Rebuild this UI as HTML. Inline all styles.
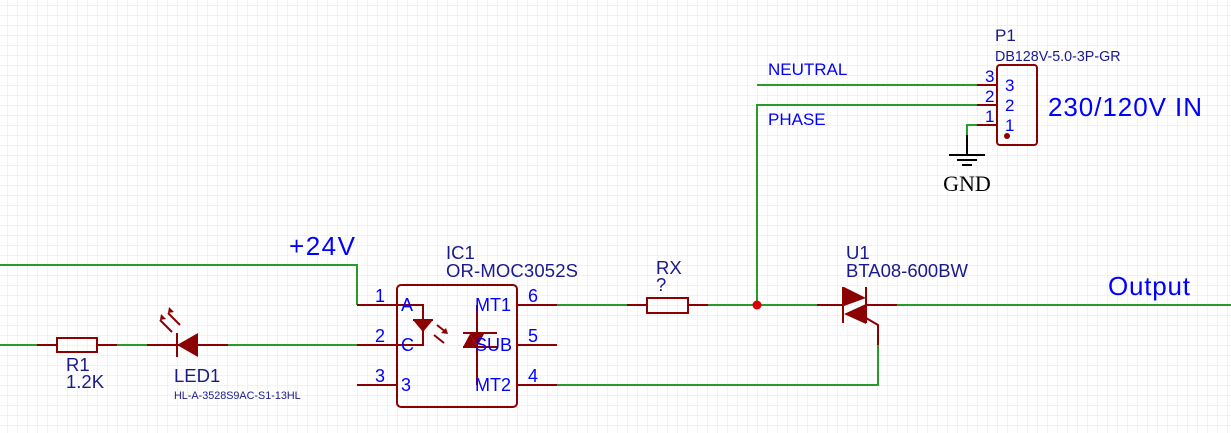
<!DOCTYPE html>
<html><head><meta charset="utf-8"><style>
html,body{margin:0;padding:0;background:#fff;}
svg{display:block;font-family:"Liberation Sans",sans-serif;}
</style></head><body>
<svg width="1231" height="433" viewBox="0 0 1231 433" xmlns="http://www.w3.org/2000/svg">
<defs>
<pattern id="g" width="10" height="10" patternUnits="userSpaceOnUse" x="7" y="5">
<path d="M0 0H10M0 0V10" stroke="#e4e4e4" stroke-width="1" fill="none"/>
</pattern>
</defs>
<rect width="1231" height="433" fill="url(#g)"/>
<g fill="none" stroke="#2a9a2a" stroke-width="2">
<polyline points="0,265 357,265 357,305"/>
<line x1="0" y1="345" x2="37" y2="345"/>
<line x1="117" y1="345" x2="147" y2="345"/>
<line x1="228" y1="345" x2="357" y2="345"/>
<line x1="557" y1="305" x2="627" y2="305"/>
<line x1="708" y1="305" x2="817" y2="305"/>
<line x1="897" y1="305" x2="1231" y2="305"/>
<polyline points="757,305 757,105 977,105"/>
<line x1="757" y1="85" x2="977" y2="85"/>
<polyline points="557,385 878,385 878,345"/>
<polyline points="977,125 967,125 967,135"/>
</g>
<g fill="none" stroke="#8b0000" stroke-width="2">
<line x1="357" y1="305" x2="397" y2="305"/>
<line x1="357" y1="345" x2="397" y2="345"/>
<line x1="357" y1="385" x2="397" y2="385"/>
<line x1="517" y1="305" x2="557" y2="305"/>
<line x1="517" y1="345" x2="557" y2="345"/>
<line x1="517" y1="385" x2="557" y2="385"/>
<rect x="397" y="285" width="120" height="122" rx="4"/>
<polyline points="397,305 423,305 423,345 397,345"/>
<line x1="413" y1="320" x2="433" y2="320"/>
<polyline points="477,305 477,385"/>
<line x1="463" y1="333" x2="497" y2="333"/>
<line x1="463" y1="347" x2="497" y2="347"/>
<line x1="437" y1="325" x2="447" y2="333"/><line x1="434" y1="335" x2="444" y2="343"/>
<line x1="37" y1="345" x2="57" y2="345"/>
<line x1="97" y1="345" x2="117" y2="345"/>
<rect x="57" y="338" width="40" height="14"/>
<line x1="147" y1="345" x2="228" y2="345"/>
<line x1="177" y1="333" x2="177" y2="357"/>
<line x1="172" y1="332" x2="160" y2="320"/><line x1="180" y1="325" x2="168" y2="313"/>
<line x1="627" y1="305" x2="647" y2="305"/>
<line x1="688" y1="305" x2="708" y2="305"/>
<rect x="647" y="298" width="41" height="15"/>
<line x1="817" y1="305" x2="843" y2="305"/>
<line x1="866" y1="305" x2="897" y2="305"/>
<line x1="843" y1="287" x2="843" y2="323"/>
<line x1="866" y1="287" x2="866" y2="323"/>
<polyline points="866,318 878,325 878,345"/>
<rect x="997" y="65" width="40" height="80" rx="3"/>
<line x1="977" y1="85" x2="997" y2="85"/>
<line x1="977" y1="105" x2="997" y2="105"/>
<line x1="977" y1="125" x2="997" y2="125"/>
</g>
<g fill="#8b0000">
<polygon points="413,320 433,320 423,332"/>
<polygon points="470,334 484,334 477,347"/>
<polygon points="477,334 470,347 484,347" transform="translate(-7,0)"/>
<polygon points="177,345 198,333 198,357"/>
<polygon points="448,334 441,333 446,328"/>
<polygon points="160,320 161,314 166,319"/><polygon points="168,313 169,307 174,312"/>
<polygon points="844,287 866,298 844,306"/>
<polygon points="866,304 844,314 866,324"/>
<circle cx="1007" cy="136" r="3"/>
</g>
<circle cx="757" cy="305" r="4.5" fill="#dd0000"/>
<g stroke="#000" stroke-width="2">
<line x1="967" y1="135" x2="967" y2="155"/>
<line x1="949" y1="155" x2="985" y2="155"/>
<line x1="957" y1="160" x2="977" y2="160"/>
<line x1="962" y1="165" x2="972" y2="165"/>
</g>
<text x="967" y="191" font-family="Liberation Serif,serif" font-size="22" text-anchor="middle" fill="#000">GND</text>
<g fill="#0000ff" font-size="18">
<text x="375" y="302">1</text><text x="375" y="342">2</text><text x="375" y="382">3</text>
<text x="401" y="311">A</text><text x="401" y="351">C</text><text x="401" y="391">3</text>
<text x="475" y="311">MT1</text><text x="475" y="351">SUB</text><text x="475" y="391">MT2</text>
<text x="528" y="302">6</text><text x="528" y="342">5</text><text x="528" y="382">4</text>
<text x="985" y="82" font-size="17">3</text><text x="985" y="102" font-size="17">2</text><text x="985" y="122" font-size="17">1</text>
<text x="1005" y="91" font-size="17">3</text><text x="1005" y="111" font-size="17">2</text><text x="1005" y="131" font-size="17">1</text>
<text x="768" y="75" font-size="17">NEUTRAL</text>
<text x="768" y="125" font-size="17">PHASE</text>
<text x="1048" y="116" font-size="26" textLength="154">230/120V IN</text>
<text x="1108" y="295" font-size="26" textLength="82">Output</text>
<text x="289" y="255" font-size="26" textLength="66">+24V</text>
</g>
<g fill="#1a1a8c" font-size="18.5">
<text x="446" y="259">IC1</text><text x="446" y="277" textLength="132">OR-MOC3052S</text>
<text x="656" y="274">RX</text><text x="656" y="291">?</text>
<text x="846" y="259">U1</text><text x="846" y="277">BTA08-600BW</text>
<text x="66" y="371">R1</text><text x="66" y="388">1.2K</text>
<text x="174" y="382" font-size="18.5">LED1</text>
<text x="174" y="399" font-size="10.8">HL-A-3528S9AC-S1-13HL</text>
<text x="995" y="41" font-size="17">P1</text>
<text x="995" y="61" font-size="14.3">DB128V-5.0-3P-GR</text>
</g>
</svg>
</body></html>
